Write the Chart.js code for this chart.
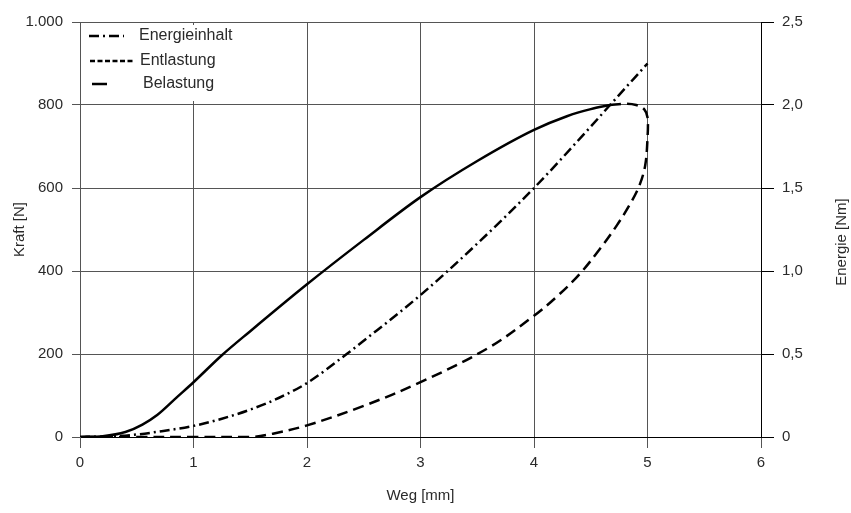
<!DOCTYPE html>
<html>
<head>
<meta charset="utf-8">
<script src="https://cdn.jsdelivr.net/npm/chart.js@4/dist/chart.umd.min.js"></script>
<style>
  html, body { margin: 0; padding: 0; background: #fff; }
  #wrap { width: 851px; height: 513px; position: relative; }
</style>
</head>
<body>
<div id="wrap"><canvas id="c"></canvas></div>
<script>
// Weg [mm] / Kraft [N] / Energie [Nm]
const belastungX = [0, 0.2, 0.4, 0.55, 0.68, 0.85, 1.0, 1.25, 1.5, 2.0, 2.5, 3.0, 3.5, 4.0, 4.29, 4.5, 4.67];
const belastungY = [0, 2, 12, 30, 53, 95, 132, 197, 255, 368, 475, 578, 665, 740, 773, 790, 800];

const entlastungX = [4.67, 4.8, 4.9, 4.97, 5.0, 5.0, 4.98, 4.93, 4.85, 4.73, 4.58, 4.4, 4.2, 4.0, 3.6, 3.0, 2.5, 2.0, 1.7, 1.5, 1.0, 0.5, 0];
const entlastungY = [800, 803, 800, 790, 770, 720, 655, 607, 563, 510, 453, 392, 338, 292, 215, 132, 75, 28, 8, 0, 0, 0, 0];

const energieX = [0, 0.3, 0.5, 0.7, 1.0, 1.25, 1.5, 1.75, 2.0, 2.35, 2.5, 3.0, 3.5, 4.0, 4.5, 4.67, 5.0];
const energieY = [0, 0.005, 0.015, 0.033, 0.067, 0.11, 0.165, 0.235, 0.325, 0.5, 0.58, 0.855, 1.165, 1.5, 1.87, 2.0, 2.25];

const legendLabels = ['Energieinhalt', 'Entlastung', 'Belastung'];

const FONT = "'Liberation Sans', Arial, sans-serif";
const TXT = '#2a2a2a';
const GRID = '#555';

const pts = (xs, ys) => xs.map((x, i) => ({ x: x, y: ys[i] }));

const fmtKraft = v => v >= 1000 ? (v / 1000) + '.' + String(v % 1000).padStart(3, '0') : String(v);
const fmtEnergie = v => v === 0 ? '0' : v.toFixed(1).replace('.', ',');

const legendPlugin = {
    id: 'innerLegend',
    afterDraw(chart) {
        const ctx = chart.ctx;
        ctx.save();
        ctx.fillStyle = '#fff';
        ctx.fillRect(82, 25, 170, 76);
        ctx.strokeStyle = '#000';
        ctx.lineWidth = 2.5;
        ctx.lineCap = 'butt';
        const rows = [
            { y: 36, x0: 89, x1: 124, dash: [10, 4, 2, 4], tx: 139 },
            { y: 61, x0: 90, x1: 134, dash: [5, 2.5], tx: 140 },
            { y: 84, x0: 92, x1: 107, dash: [], tx: 143 }
        ];
        ctx.font = '16px ' + FONT;
        ctx.textBaseline = 'middle';
        rows.forEach((r, i) => {
            ctx.setLineDash(r.dash);
            ctx.beginPath();
            ctx.moveTo(r.x0, r.y);
            ctx.lineTo(r.x1, r.y);
            ctx.stroke();
            ctx.fillStyle = TXT;
            ctx.fillText(legendLabels[i], r.tx, r.y);
        });
        ctx.setLineDash([]);
        // right axis title, reading bottom to top
        ctx.translate(842, 242);
        ctx.rotate(-Math.PI / 2);
        ctx.font = '15px ' + FONT;
        ctx.textAlign = 'center';
        ctx.fillStyle = TXT;
        ctx.fillText('Energie [Nm]', 0, 0);
        ctx.restore();
    }
};

const lineBase = { showLine: true, pointRadius: 0, borderColor: '#000', borderWidth: 2.5, fill: false };

new Chart(document.getElementById('c'), {
    type: 'scatter',
    data: {
        datasets: [
            Object.assign({ label: 'Energieinhalt', data: pts(energieX, energieY), yAxisID: 'y2', borderDash: [10, 4, 2, 4], cubicInterpolationMode: 'monotone' }, lineBase),
            Object.assign({ label: 'Entlastung', data: pts(entlastungX, entlastungY), yAxisID: 'y', borderDash: [11, 6], tension: 0.35 }, lineBase),
            Object.assign({ label: 'Belastung', data: pts(belastungX, belastungY), yAxisID: 'y', cubicInterpolationMode: 'monotone' }, lineBase)
        ]
    },
    options: {
        responsive: true, maintainAspectRatio: false, animation: false,
        layout: { padding: { top: 22, left: 0, right: 0, bottom: 0 } },
        plugins: { legend: { display: false }, tooltip: { enabled: false } },
        scales: {
            x: {
                type: 'linear', min: 0, max: 6,
                afterFit: s => { s.height = 76; },
                ticks: { stepSize: 1, color: TXT, font: { family: FONT, size: 15 }, padding: 6 },
                grid: { color: GRID, lineWidth: 1, tickLength: 11 },
                border: { color: '#000', width: 1 },
                title: { display: true, text: 'Weg [mm]', color: TXT, font: { family: FONT, size: 15 }, padding: { top: 0, bottom: 8 } }
            },
            y: {
                position: 'left', min: 0, max: 1000,
                afterFit: s => { s.width = 80; },
                ticks: { stepSize: 200, color: TXT, font: { family: FONT, size: 15 }, padding: 9, callback: v => fmtKraft(v) },
                grid: { color: GRID, lineWidth: 1, tickLength: 8 },
                border: { color: GRID, width: 1 },
                title: { display: true, text: 'Kraft [N]', color: TXT, font: { family: FONT, size: 15 }, padding: { top: 11, bottom: 0 } }
            },
            y2: {
                position: 'right', min: 0, max: 2.5,
                afterFit: s => { s.width = 90; },
                ticks: { stepSize: 0.5, color: TXT, font: { family: FONT, size: 15 }, padding: 8, callback: v => fmtEnergie(v) },
                grid: { drawOnChartArea: false, color: '#000', tickLength: 13 },
                border: { color: '#000', width: 1 }
            }
        }
    },
    plugins: [legendPlugin]
});
</script>
</body>
</html>
